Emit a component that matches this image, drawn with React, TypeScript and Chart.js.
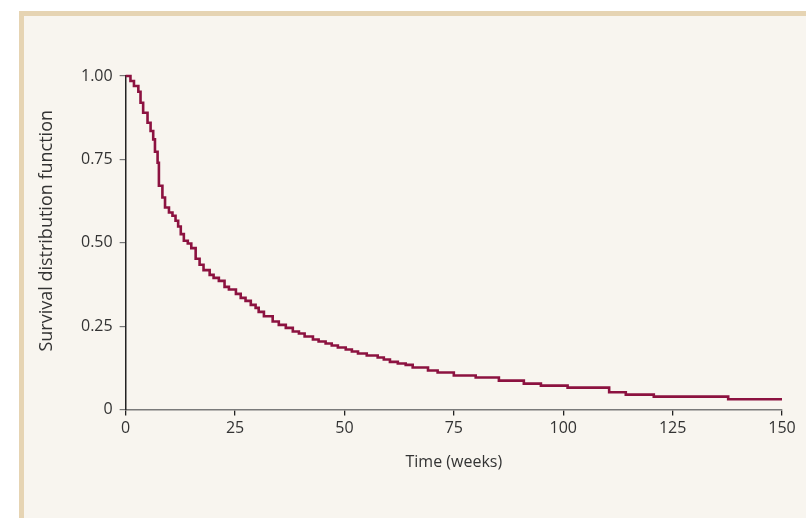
import React, { useEffect, useRef } from "react";
import { Chart, registerables } from "chart.js";

Chart.register(...registerables);

const weeks = [0, 1.1, 1.9, 2.9, 3.4, 4.0, 5.0, 5.7, 6.3, 6.7, 7.3, 7.6, 8.4, 9.0, 9.9, 10.7, 11.4, 12.0, 12.6, 13.3, 14.2, 15.0, 16.0, 16.9, 17.8, 19.2, 20.1, 21.3, 22.6, 23.6, 25.2, 26.3, 27.4, 28.6, 29.7, 30.4, 31.6, 33.6, 35.0, 36.6, 38.2, 39.6, 40.9, 42.8, 44.1, 45.7, 47.1, 48.5, 50.3, 51.7, 53.1, 55.1, 57.6, 59.0, 60.4, 62.2, 64.0, 65.6, 69.1, 71.3, 75.0, 80.0, 85.3, 91.0, 94.9, 101.0, 110.5, 114.3, 120.7, 137.7, 150];
const survival = [1.0, 0.985, 0.970, 0.953, 0.920, 0.890, 0.860, 0.835, 0.810, 0.773, 0.740, 0.671, 0.636, 0.606, 0.591, 0.581, 0.566, 0.549, 0.526, 0.506, 0.498, 0.484, 0.452, 0.434, 0.418, 0.404, 0.395, 0.386, 0.368, 0.360, 0.347, 0.335, 0.326, 0.314, 0.305, 0.293, 0.280, 0.264, 0.254, 0.245, 0.234, 0.228, 0.219, 0.210, 0.204, 0.198, 0.192, 0.186, 0.180, 0.174, 0.168, 0.162, 0.156, 0.150, 0.143, 0.138, 0.134, 0.126, 0.117, 0.111, 0.102, 0.096, 0.087, 0.078, 0.072, 0.066, 0.052, 0.045, 0.039, 0.031, 0.031];
const xTicks = [0, 25, 50, 75, 100, 125, 150];
const yTicks = [0, 0.25, 0.5, 0.75, 1.0];
const xTitle = "Time (weeks)";
const yTitle = "Survival distribution function";

const FONT = "'Open Sans', 'Noto Sans', sans-serif";

const yTitlePlugin = {
  id: "yTitle",
  afterDraw(chart: any) {
    const { ctx, chartArea } = chart;
    ctx.save();
    ctx.font = `18px ${FONT}`;
    ctx.fillStyle = "#333";
    ctx.textAlign = "center";
    ctx.textBaseline = "middle";
    const cy = chartArea.top + (chartArea.bottom - chartArea.top) * 0.464;
    ctx.translate(47, cy);
    ctx.rotate(-Math.PI / 2);
    ctx.fillText(yTitle, 0, 0);
    ctx.restore();
  },
};

export default function App() {
  const ref = useRef<HTMLCanvasElement>(null);
  useEffect(() => {
    if (!ref.current) return;
    const chart = new Chart(ref.current, {
      type: "line",
      data: {
        datasets: [
          {
            data: weeks.map((w, i) => ({ x: w, y: survival[i] })),
            borderColor: "#8c1240",
            borderWidth: 2.6,
            pointRadius: 0,
            stepped: "before",
            fill: false,
            clip: false as any,
          },
        ],
      },
      options: {
        animation: false,
        responsive: false,
        maintainAspectRatio: false,
        layout: { padding: { left: 74, top: 76, right: 24, bottom: 46 } },
        plugins: { legend: { display: false }, tooltip: { enabled: false } },
        scales: {
          x: {
            type: "linear",
            min: 0,
            max: 150,
            afterBuildTicks: (s: any) => {
              s.ticks = xTicks.map((v) => ({ value: v }));
            },
            ticks: {
              color: "#333",
              font: { family: FONT, size: 16 },
              padding: 3,
              maxRotation: 0,
            },
            grid: { drawOnChartArea: false, drawTicks: true, tickLength: 6, color: "#222", lineWidth: 1.3 },
            border: { display: true, color: "#7a7a7a", width: 1.5 },
            title: { display: true, text: xTitle, color: "#333", font: { family: FONT, size: 16 }, padding: { top: 12, bottom: 0 } },
          },
          y: {
            type: "linear",
            min: 0,
            max: 1,
            afterBuildTicks: (s: any) => {
              s.ticks = yTicks.map((v) => ({ value: v }));
            },
            ticks: {
              color: "#333",
              font: { family: FONT, size: 16 },
              padding: 7,
              callback: (v: any) => (Number(v) === 0 ? "0" : Number(v).toFixed(2)),
            },
            grid: { drawOnChartArea: false, drawTicks: true, tickLength: 6, color: "#777", lineWidth: 1.2 },
            border: { display: true, color: "#222", width: 1.5 },
            title: { display: false },
          },
        },
      },
      plugins: [yTitlePlugin],
    });
    return () => chart.destroy();
  }, []);

  return (
    <div style={{ position: "fixed", left: 0, top: 0, width: 806, height: 518, background: "#ffffff", overflow: "hidden" }}>
      <div
        style={{
          position: "absolute",
          left: 19,
          top: 11,
          right: 0,
          bottom: 0,
          background: "#f8f5ef",
          borderLeft: "5px solid #e6d4b3",
          borderTop: "5px solid #e6d4b3",
        }}
      />
      <canvas ref={ref} width={806} height={518} style={{ position: "absolute", left: 0, top: 0 }} />
    </div>
  );
}
